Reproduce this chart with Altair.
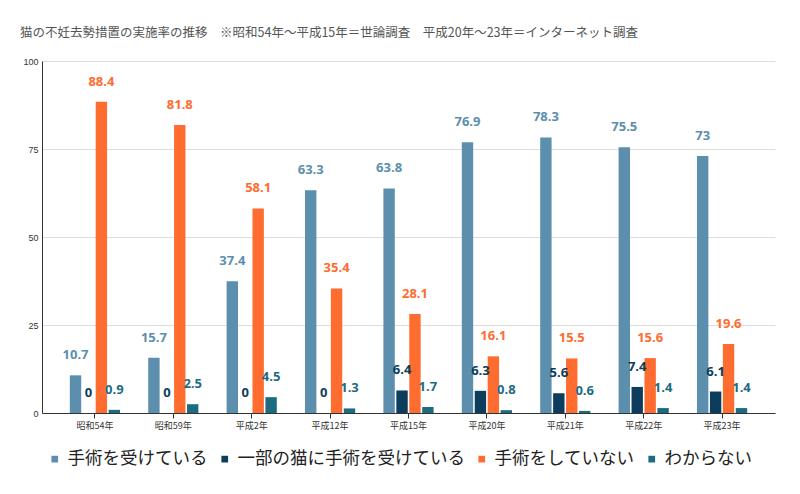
import altair as alt
import pandas as pd

years = ["昭和54年", "昭和59年", "平成2年", "平成12年", "平成15年", "平成20年", "平成21年", "平成22年", "平成23年"]
series = ["手術を受けている", "一部の猫に手術を受けている", "手術をしていない", "わからない"]
received = [10.7, 15.7, 37.4, 63.3, 63.8, 76.9, 78.3, 75.5, 73]
partial = [0, 0, 0, 0, 6.4, 6.3, 5.6, 7.4, 6.1]
not_received = [88.4, 81.8, 58.1, 35.4, 28.1, 16.1, 15.5, 15.6, 19.6]
unknown = [0.9, 2.5, 4.5, 1.3, 1.7, 0.8, 0.6, 1.4, 1.4]
colors = ["#5b8fad", "#0c3d5c", "#ff6c2f", "#1d6b80"]

rows = []
for s, vals in zip(series, [received, partial, not_received, unknown]):
    for y, v in zip(years, vals):
        rows.append({"year": y, "series": s, "value": v})
df = pd.DataFrame(rows)

FONT = "Noto Sans CJK JP"

x_enc = alt.X("year:N", sort=years, title=None,
              scale=alt.Scale(paddingInner=0.36, paddingOuter=0.355),
              axis=alt.Axis(labelAngle=0, labelFontSize=9, labelFont=FONT, labelColor="#333",
                            domainColor="#333", tickColor="#333", tickSize=5, labelPadding=3))
xoff = alt.XOffset("series:N", sort=series, scale=alt.Scale(paddingInner=0.12, paddingOuter=0))
y_enc = alt.Y("value:Q", title=None,
              scale=alt.Scale(domain=[0, 100], nice=False),
              axis=alt.Axis(values=[0, 25, 50, 75, 100], labelFontSize=9, labelFont="Liberation Sans",
                            labelColor="#333", domainColor="#333", ticks=False, labelPadding=4,
                            gridColor="#dddddd"))
color_enc = alt.Color("series:N", sort=series,
                      scale=alt.Scale(domain=series, range=colors),
                      legend=alt.Legend(title=None, orient="none", direction="horizontal",
                                        legendX=4, legendY=389, symbolType="square", symbolSize=45,
                                        labelFontSize=17.5, labelFont=FONT, labelColor="#222",
                                        labelLimit=0, columnPadding=8, symbolOffset=0, labelOffset=4))

bars = alt.Chart(df).mark_bar().encode(x=x_enc, xOffset=xoff, y=y_enc, color=color_enc)
labels = alt.Chart(df).mark_text(dy=-20, baseline="middle", fontSize=13, fontWeight="bold",
                                 font="Open Sans").encode(
    x=alt.X("year:N", sort=years), xOffset=alt.XOffset("series:N", sort=series),
    y="value:Q", text=alt.Text("value:Q"),
    color=alt.Color("series:N", sort=series, legend=None))

chart = alt.layer(bars, labels).properties(
    width=733, height=352,
    autosize=alt.AutoSizeParams(type="none"),
    padding={"left": 34, "top": 53, "right": 17, "bottom": 73},
    title=alt.Title("猫の不妊去勢措置の実施率の推移　※昭和54年～平成15年＝世論調査　平成20年～23年＝インターネット調査",
                    anchor="start", frame="group", dx=-22, offset=18, fontSize=12.5, font=FONT,
                    fontWeight="normal", color="#555"),
).configure_view(stroke=None).configure_axis(labelFont=FONT)

chart.save("out.html", embed_options={"renderer": "svg", "actions": False})
